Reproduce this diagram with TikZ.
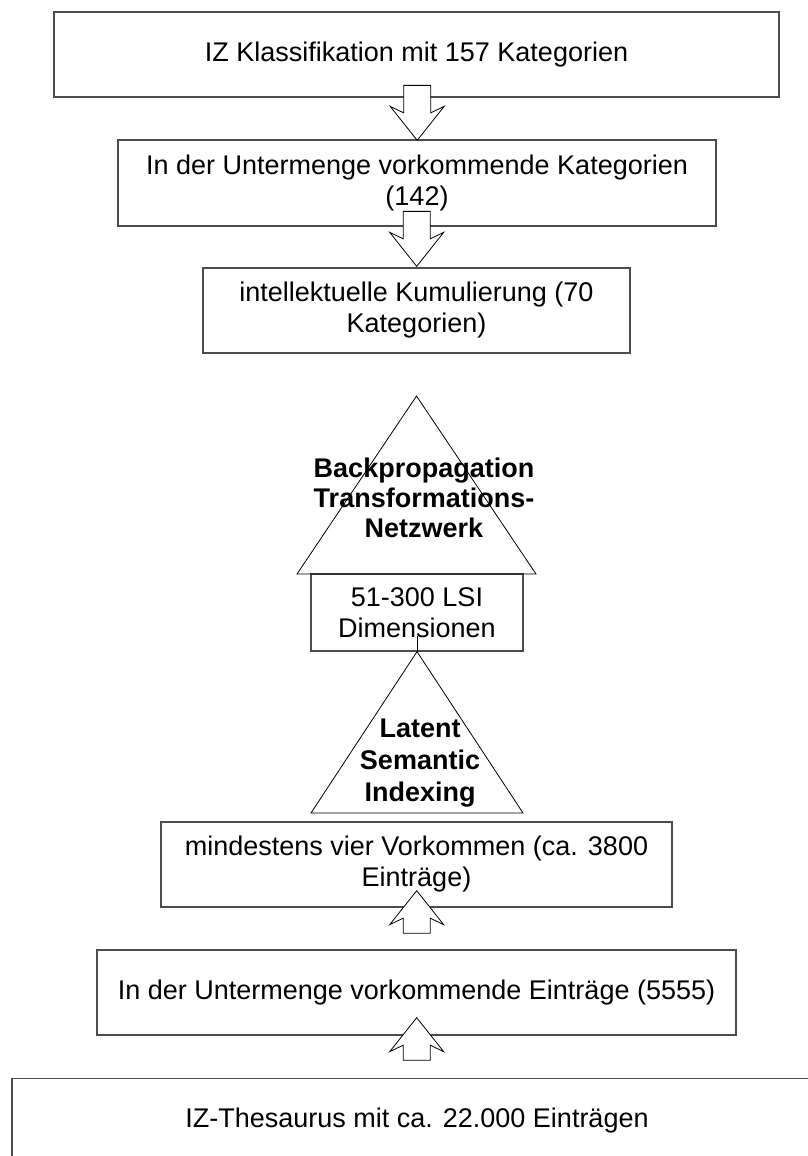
\documentclass[tikz,border=0pt]{standalone}
\usepackage{fontspec}
\setmainfont{Liberation Sans}
\usetikzlibrary{calc}
\tikzset{
  box/.style={draw=black!70, line width=1.3pt, fill=none, inner sep=0pt, align=center,
    font=\fontsize{27}{31}\selectfont},
  lbl/.style={inner sep=0pt, align=center, font=\fontsize{27}{30}\selectfont\bfseries},
  lblwide/.style={inner sep=0pt, align=center, font=\fontsize{27}{32}\selectfont\bfseries},
  thin/.style={draw=black, line width=0.8pt},
  blk/.style={draw=black, line width=0.8pt, fill=white, line join=miter},
}
\newcommand{\blockdown}[1]{\draw[blk] (#1) -- ++(-27,-34) -- ++(13.5,6.5) -- ++(0,-27.5) -- ++(27,0) -- ++(0,27.5) -- ++(13.5,-6.5) -- cycle;}
\newcommand{\blockup}[1]{\draw[blk] (#1) -- ++(-27,34) -- ++(13.5,-6.5) -- ++(0,15) -- ++(27,0) -- ++(0,-15) -- ++(13.5,6.5) -- cycle;}
\begin{document}
\begin{tikzpicture}[x=1pt,y=-1pt]
\useasboundingbox (0,0) rectangle (808,1156);
\clip (0,0) rectangle (808,1156);
\fill[white] (0,0) rectangle (808,1156);
% boxes
\node[box, minimum width=725pt, minimum height=85pt] (b1) at (416.5,54.5) {IZ Klassifikation mit 157 Kategorien};
\node[box, minimum width=598pt, minimum height=86pt] (b2) at (417,183) {In der Untermenge vorkommende Kategorien\\(142)};
\node[box, minimum width=427pt, minimum height=85pt] (b3) at (416.5,310.5) {intellektuelle Kumulierung (70\\Kategorien)};
\node[box, minimum width=212pt, minimum height=77pt] (b4) at (417,612.5) {51-300 LSI\\Dimensionen};
\node[box, minimum width=511pt, minimum height=85pt] (b5) at (416.5,864.5) {mindestens vier Vorkommen (ca. 3800\\Einträge)};
\node[box, minimum width=639pt, minimum height=85pt] (b6) at (416.5,992.5) {In der Untermenge vorkommende Einträge (5555)};
\node[box, minimum width=810pt, minimum height=85pt] (b7) at (417,1121) {IZ-Thesaurus mit ca. 22.000 Einträgen};
% triangles
\coordinate (t1apex) at (416.5,396);
\coordinate (t1l) at (297,574);
\coordinate (t1r) at (536,574);
\draw[thin, line join=miter] (t1apex) -- (t1l) -- (t1r) -- cycle;
\node[lbl] (t1text) at (424,498) {Backpropagation\\Transformations-\\Netzwerk};
\coordinate (t2l) at (311,813);
\coordinate (t2r) at (523,813);
\draw[thin, line join=miter] (b4.south) -- (t2l) -- (t2r) -- cycle;
\node[lblwide] (t2text) at (420,763) {Latent\\Semantic\\Indexing};
\coordinate (stub) at ($(b4.south)+(0,-16)$);
\draw[thin] (stub) -- (b4.south);
% block arrows
\coordinate (a1) at ($(b2.north)+(0.2,1)$);
\coordinate (a2) at ($(b3.north)+(0.2,-1)$);
\coordinate (a3) at ($(b5.south)+(0.2,-17)$);
\coordinate (a4) at ($(b6.south)+(0.2,-18)$);
\blockdown{a1}
\blockdown{a2}
\blockup{a3}
\blockup{a4}
\end{tikzpicture}
\end{document}
